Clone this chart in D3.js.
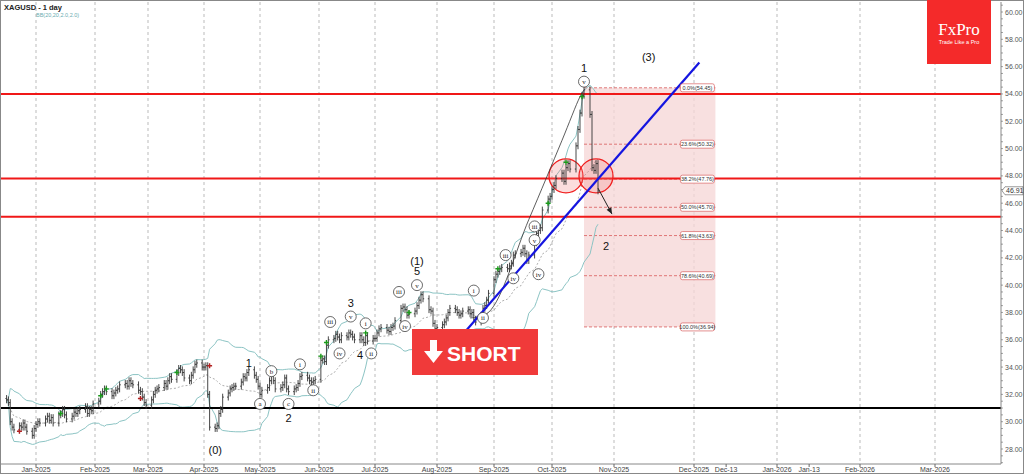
<!DOCTYPE html>
<html><head><meta charset="utf-8">
<script src="https://cdn.jsdelivr.net/npm/d3@7"></script>
<style>body{margin:0;background:#fff}svg{display:block;font-family:"Liberation Sans",Arial,sans-serif}</style>
</head><body><svg id="c" width="1024" height="474"></svg>
<script>
// ---- data ----
const closesDec24=[31.6,31.4,30.0,29.6,29.4,29.7,29.6,29.9,29.6,29.3,29.0,29.5];
const closesJan=[29.8,30.0,29.9,30.2,30.4,30.1,30.3,29.9,30.5,30.6,30.9,30.5,30.2,30.4,30.7,30.6,30.8,30.9,31.1,30.6,30.9,30.8,31.3];
const closesFeb=[31.5,32.0,32.2,32.4,32.2,31.9,32.1,32.3,32.4,32.7,32.8,32.6,33.0,32.8,32.7,32.3,32.2,31.8,31.4,31.2];
const closesMar=[31.6,32.0,32.3,32.4,32.5,32.8,32.6,33.0,33.3,33.1,33.6,33.9,33.8,33.6,33.2,33.0,33.4,33.8,34.2,34.3,34.0];
const closesApr=[34.0,34.1,32.0,29.6,29.5,29.7,30.6,30.9,31.8,32.1,32.4,32.5,32.6,32.6,32.9,33.3,33.2,33.6,33.8,33.4,33.1,32.6];
const closesMay=[32.0,32.3,32.5,33.0,33.4,33.0,32.4,32.5,32.7,33.2,32.4,32.2,32.4,32.5,32.8,33.3,33.4,33.2,33.0,32.9,33.0,33.1];
const closesJun=[34.5,34.6,34.4,35.6,36.0,36.1,36.4,36.2,36.0,36.3,36.2,36.5,36.4,36.2,36.0,36.3,36.0,35.8,36.3,35.9,36.1];
const closesJul=[36.1,36.5,36.8,36.9,36.7,36.6,36.9,37.0,37.4,38.3,38.4,38.2,37.8,37.9,38.1,38.5,38.9,39.3,39.0,38.2,38.1,37.2,36.8];
const closesAug=[36.9,37.1,37.3,37.6,38.0,38.3,38.2,38.0,37.8,37.9,38.1,38.2,37.9,38.0,37.5,37.3,37.8,38.3,38.5,38.9,39.4];
const closesSep=[40.4,40.8,41.0,41.2,41.3,41.2,41.4,41.6,42.2,42.3,42.4,42.7,42.3,41.8,42.2,43.1,43.8,44.0,44.2,45.5,46.3,46.5];
const closesOct=[47.0,47.3,47.8,48.2,47.6,48.6,48.9,48.5,50.2,51.4,52.6,53.9,54.3,52.5,48.6,48.4,48.9,46.9];
const monthStarts=[[2024,11,16],[2025,0,1],[2025,1,1],[2025,2,1],[2025,3,1],[2025,4,1],[2025,5,1],[2025,6,1],[2025,7,1],[2025,8,1],[2025,9,1]];
const priceTicks=d3.range(28,60.01,2);
const dateTickLabels=[["2025-01-01","Jan-2025"],["2025-02-01","Feb-2025"],["2025-03-01","Mar-2025"],["2025-04-01","Apr-2025"],["2025-05-01","May-2025"],["2025-06-01","Jun-2025"],["2025-07-01","Jul-2025"],["2025-08-01","Aug-2025"],["2025-09-01","Sep-2025"],["2025-10-01","Oct-2025"],["2025-11-01","Nov-2025"],["2025-12-01","Dec-2025"],["2025-12-13","Dec-13"],["2026-01-01","Jan-2026"],["2026-01-13","Jan-13"],["2026-02-01","Feb-2026"],["2026-03-01","Mar-2026"]];
const gridDates=["2025-01-01","2025-02-01","2025-03-01","2025-04-01","2025-05-01","2025-06-01","2025-07-01","2025-08-01","2025-09-01","2025-10-01","2025-11-01","2025-12-01","2026-01-01","2026-02-01","2026-03-01"];
const redLevels=[54.0,47.8,45.0];
const blackLevel=31.0;
const lastPrice=46.91;
const fibStart="2025-10-17", fibEnd="2025-12-09";
const fibLevels=[["0.0%",54.45],["23.6%",50.32],["38.2%",47.76],["50.0%",45.70],["61.8%",43.63],["78.6%",40.69],["100.0%",36.94]];
const trendline=[["2025-08-17",36.7],["2025-12-03",56.3]];
const channelCurve=[["2025-08-19",37.6],["2025-08-29",38.0],["2025-09-19",44.8],["2025-10-06",50.6],["2025-10-15",53.8],["2025-10-17",54.3]];
const arrowPts=[["2025-10-24",47.1],["2025-10-31",45.2]];
const circles=[["2025-10-08",48.0],["2025-10-23",48.0]];
// [date, price, text, circled]
const waveLabels=[
["2025-04-07",27.9,"(0)",0],["2025-04-25",34.3,"1",0],["2025-05-01",31.3,"a",1],["2025-05-07",33.7,"b",1],
["2025-05-16",31.3,"c",1],["2025-05-16",30.3,"2",0],["2025-05-22",34.2,"i",1],["2025-05-29",32.3,"ii",1],
["2025-06-07",37.3,"iii",1],["2025-06-12",35.0,"iv",1],["2025-06-18",37.7,"v",1],["2025-06-18",38.7,"3",0],
["2025-06-23",34.9,"4",0],["2025-06-26",37.2,"i",1],["2025-06-29",35.0,"ii",1],["2025-07-13",39.5,"iii",1],
["2025-07-16",37.0,"iv",1],["2025-07-22",40.0,"v",1],["2025-07-22",41.0,"5",0],["2025-07-22",41.8,"(1)",0],
["2025-08-21",39.6,"i",1],["2025-08-26",37.6,"ii",1],["2025-09-07",42.2,"iii",1],["2025-09-11",40.5,"iv",1],
["2025-09-22",44.3,"iii",1],["2025-09-22",43.3,"v",1],["2025-09-24",40.8,"iv",1],
["2025-10-17",54.9,"v",1],["2025-10-17",55.9,"1",0],["2025-11-14",56.7,"(3)",0],["2025-10-28",42.9,"2",0]];
const upSignals=[["2025-01-14",30.6],["2025-02-04",31.9],["2025-02-07",32.4],["2025-03-17",33.6],["2025-06-02",34.8],["2025-06-05",35.8],["2025-06-26",36.5],["2025-07-18",38.0],["2025-09-03",41.2],["2025-09-23",44.4],["2025-09-29",46.0],["2025-10-08",49.0],["2025-10-16",53.8]];
const downSignals=[["2024-12-23",29.3],["2025-02-25",31.7],["2025-04-04",34.1]];

// ---- build daily bars ----
const allMonths=[closesDec24,closesJan,closesFeb,closesMar,closesApr,closesMay,closesJun,closesJul,closesAug,closesSep,closesOct];
const bars=[];
allMonths.forEach((arr,mi)=>{
  const [yy,m,d0]=monthStarts[mi];
  let d=new Date(yy,m,d0), i=0;
  while(i<arr.length){
    const wd=d.getDay();
    if(wd!==0&&wd!==6){bars.push({date:new Date(d),close:arr[i]});i++;}
    d.setDate(d.getDate()+1);
  }
});
bars.forEach((b,i)=>{b.open=i?bars[i-1].close:b.close+0.1;b.high=Math.max(b.open,b.close)+0.25;b.low=Math.min(b.open,b.close)-0.25;});
bars.forEach((b,i)=>{const s=bars.slice(Math.max(0,i-19),i+1).map(v=>v.close);const m=d3.mean(s);const sd=Math.sqrt(d3.mean(s.map(v=>(v-m)**2)));b.mid=m;b.up=m+2*sd;b.dn=m-2*sd;});

// ---- scales ----
const P=s=>d3.timeParse("%Y-%m-%d")(s);
const x=d3.scaleTime()
 .domain([new Date(2024,11,1),new Date(2025,0,1),new Date(2025,1,1),new Date(2025,2,1),new Date(2025,3,1),new Date(2025,4,1),new Date(2025,5,1),new Date(2025,6,1),new Date(2025,7,1),new Date(2025,8,1),new Date(2025,9,1),new Date(2025,10,1),new Date(2025,11,1),new Date(2026,0,1),new Date(2026,1,1),new Date(2026,2,1)])
 .range([-21,36,95,148,204,260,319,375,437,494,552,614,694,777,860,935]);
const y=d3.scaleLinear().domain([28,60]).range([449,12]);
const X=s=>x(typeof s==="string"?P(s):s);

const svg=d3.select("#c");
svg.append("rect").attr("x",0.5).attr("y",0.5).attr("width",1023).attr("height",473).attr("fill","none").attr("stroke","#888");
svg.append("defs").append("clipPath").attr("id","pl").append("rect").attr("x",1).attr("y",2).attr("width",1000).attr("height",462);
const g=svg.append("g").attr("clip-path","url(#pl)");

g.selectAll(".gr").data(gridDates).join("line").attr("x1",d=>X(d)).attr("x2",d=>X(d)).attr("y1",2).attr("y2",464)
 .attr("stroke","#aaa").attr("stroke-dasharray","3,3").attr("stroke-width",0.8);

const fx0=X(fibStart), fx1=X(fibEnd);
g.append("rect").attr("x",fx0).attr("y",y(54.45)).attr("width",fx1-fx0).attr("height",y(36.94)-y(54.45)).attr("fill","#f5d5d5").attr("opacity",0.75);
g.selectAll(".fl").data(fibLevels).join("line").attr("x1",fx0).attr("x2",fx1).attr("y1",d=>y(d[1])).attr("y2",d=>y(d[1]))
 .attr("stroke","#d85a5a").attr("stroke-dasharray","3,2").attr("stroke-width",0.8);

const ln=k=>d3.line().x(d=>X(d.date)).y(d=>y(d[k]));
g.append("path").datum(bars).attr("d",ln("up")).attr("fill","none").attr("stroke","#8cc4c4").attr("stroke-width",1);
g.append("path").datum(bars).attr("d",ln("dn")).attr("fill","none").attr("stroke","#8cc4c4").attr("stroke-width",1);
g.append("path").datum(bars).attr("d",ln("mid")).attr("fill","none").attr("stroke","#999").attr("stroke-dasharray","2,2").attr("stroke-width",0.8);

g.selectAll(".rl").data(redLevels).join("line").attr("x1",0).attr("x2",1001).attr("y1",d=>y(d)).attr("y2",d=>y(d)).attr("stroke","#f01818").attr("stroke-width",2);
g.append("line").attr("x1",0).attr("x2",1001).attr("y1",y(blackLevel)).attr("y2",y(blackLevel)).attr("stroke","#000").attr("stroke-width",2);

g.selectAll(".ci").data(circles).join("circle").attr("cx",d=>X(d[0])).attr("cy",d=>y(d[1])).attr("r",17)
 .attr("fill","rgba(240,120,120,0.25)").attr("stroke","#f02020").attr("stroke-width",1.3);

const bg=g.append("g").attr("stroke","#333").attr("stroke-width",0.9);
bars.forEach(b=>{const cx=X(b.date);
 bg.append("line").attr("x1",cx).attr("x2",cx).attr("y1",y(b.high)).attr("y2",y(b.low));
 bg.append("line").attr("x1",cx-1.2).attr("x2",cx).attr("y1",y(b.open)).attr("y2",y(b.open));
 bg.append("line").attr("x1",cx).attr("x2",cx+1.2).attr("y1",y(b.close)).attr("y2",y(b.close));
});

g.append("path").datum(channelCurve).attr("d",d3.line().x(d=>X(d[0])).y(d=>y(d[1])).curve(d3.curveCatmullRom)).attr("fill","none").attr("stroke","#333").attr("stroke-width",0.8);
g.append("line").attr("x1",X(trendline[0][0])).attr("y1",y(trendline[0][1])).attr("x2",X(trendline[1][0])).attr("y2",y(trendline[1][1])).attr("stroke","#1515e0").attr("stroke-width",2.2);

const sig=(data,col)=>data.forEach(d=>{const cx=X(d[0]),cy=y(d[1]);
 g.append("path").attr("d",`M${cx-2.5},${cy}H${cx+2.5}M${cx},${cy-2.5}V${cy+2.5}`).attr("stroke",col).attr("stroke-width",1.4);});
sig(upSignals,"#1a9a1a");
sig(downSignals,"#b22222");

const ax0=X(arrowPts[0][0]),ay0=y(arrowPts[0][1]),ax1=X(arrowPts[1][0]),ay1=y(arrowPts[1][1]);
g.append("line").attr("x1",ax0).attr("y1",ay0).attr("x2",ax1).attr("y2",ay1).attr("stroke","#222").attr("stroke-width",1);
const ang=Math.atan2(ay1-ay0,ax1-ax0);
g.append("path").attr("d",`M${ax1},${ay1}L${ax1-7*Math.cos(ang-0.4)},${ay1-7*Math.sin(ang-0.4)}L${ax1-7*Math.cos(ang+0.4)},${ay1-7*Math.sin(ang+0.4)}Z`).attr("fill","#222");

fibLevels.forEach(f=>{const t=`${f[0]}(${f[1].toFixed(2)})`;const cy=y(f[1]);
 g.append("rect").attr("x",fx1-35).attr("y",cy-4).attr("width",34).attr("height",8).attr("rx",2).attr("fill","#fff").attr("stroke","#d86060").attr("stroke-width",0.7);
 g.append("text").attr("x",fx1-18).attr("y",cy+2).attr("text-anchor","middle").attr("font-size",5.5).attr("fill","#333").text(t);});

waveLabels.forEach(w=>{const cx=X(w[0]),cy=y(w[1]);
 if(w[3]){g.append("circle").attr("cx",cx).attr("cy",cy).attr("r",5.5).attr("fill","#fff").attr("stroke","#444").attr("stroke-width",0.8);
  g.append("text").attr("x",cx).attr("y",cy+2.5).attr("text-anchor","middle").attr("font-size",7).attr("font-family","Liberation Serif,serif").attr("fill","#222").text(w[2]);}
 else g.append("text").attr("x",cx).attr("y",cy+4).attr("text-anchor","middle").attr("font-size",11).attr("fill","#111").text(w[2]);});

svg.append("rect").attr("x",412).attr("y",329).attr("width",126).attr("height",46).attr("fill","#f03a3a");
const ag=svg.append("g").attr("fill","#fff");
ag.append("rect").attr("x",430).attr("y",340).attr("width",7).attr("height",12);
ag.append("path").attr("d","M424,351L443,351L433.5,363Z");
svg.append("text").attr("x",447).attr("y",361).attr("font-size",21).attr("font-weight","bold").attr("fill","#fff").text("SHORT");

svg.append("rect").attr("x",927).attr("y",0).attr("width",64).attr("height",64).attr("fill","#f42a2a");
svg.append("text").attr("x",959).attr("y",35).attr("text-anchor","middle").attr("font-size",17).attr("font-family","Liberation Serif,serif").attr("fill","#fff").text("FxPro");
svg.append("text").attr("x",959).attr("y",44).attr("text-anchor","middle").attr("font-size",5.5).attr("fill","#fff").text("Trade Like a Pro");

svg.append("text").attr("x",4).attr("y",10).attr("font-size",7.5).attr("font-weight","bold").attr("fill","#222").text("XAGUSD - 1 day");
svg.append("text").attr("x",36).attr("y",17).attr("font-size",5.5).attr("fill","#6aacb0").text("BB(20,20,2.0,2.0)");

svg.append("line").attr("x1",1001).attr("x2",1001).attr("y1",2).attr("y2",464).attr("stroke","#888");
svg.selectAll(".mt").data(d3.range(27,61,0.5)).join("line").attr("x1",1001).attr("x2",1003).attr("y1",d=>y(d)).attr("y2",d=>y(d)).attr("stroke","#666").attr("stroke-width",0.6);
svg.selectAll(".pt").data(priceTicks).join("text").attr("x",1005).attr("y",d=>y(d)+2.5).attr("font-size",7).attr("fill","#555").text(d=>d.toFixed(2));
const ly=y(lastPrice);
svg.append("path").attr("d",`M1002,${ly}L1005,${ly-4}H1023V${ly+4}H1005Z`).attr("fill","#fff").attr("stroke","#555").attr("stroke-width",0.6);
svg.append("text").attr("x",1006).attr("y",ly+2.5).attr("font-size",7).attr("fill","#333").text(lastPrice.toFixed(2));

svg.append("line").attr("x1",0).attr("x2",1001).attr("y1",464).attr("y2",464).attr("stroke","#888");
svg.selectAll(".dt").data(dateTickLabels).join("line").attr("x1",d=>X(d[0])).attr("x2",d=>X(d[0])).attr("y1",464).attr("y2",467).attr("stroke","#666");
svg.selectAll(".dl").data(dateTickLabels).join("text").attr("x",d=>X(d[0])).attr("y",472).attr("text-anchor","middle").attr("font-size",7).attr("fill","#444").text(d=>d[1]);
</script></body></html>
